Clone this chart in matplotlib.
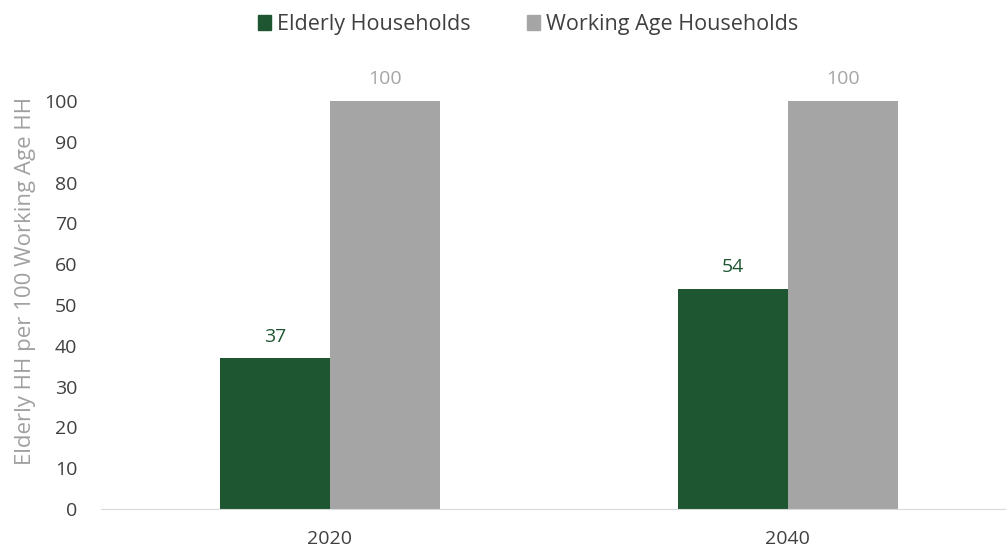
import numpy as np
import matplotlib.pyplot as plt
from matplotlib.patches import Patch

years = ["2020", "2040"]
elderly = [37, 54]
working = [100, 100]

GREEN = "#1E5631"
GREY = "#A5A5A5"
TEXT = "#404040"

plt.rcParams["font.family"] = ["Open Sans", "DejaVu Sans"]

fig = plt.figure(figsize=(10.08, 5.5), dpi=100)
ax = fig.add_axes([101 / 1008, 41 / 550, 904 / 1008, 408 / 550])

x = np.arange(len(years))
w = 0.24
b1 = ax.bar(x - w / 2, elderly, w, color=GREEN, label="Elderly Households")
b2 = ax.bar(x + w / 2, working, w, color=GREY, label="Working Age Households")

for bars, vals, col in [(b1, elderly, GREEN), (b2, working, GREY)]:
    for r, v in zip(bars, vals):
        ax.annotate(str(v), (r.get_x() + r.get_width() / 2, v),
                    xytext=(0, 9), textcoords="offset points",
                    ha="center", va="bottom", fontsize=14, color=col)

ax.set_xlim(-0.5, 1.474)
ax.set_ylim(0, 100)
ax.set_yticks(range(0, 101, 10))
ax.set_xticks(x)
ax.set_xticklabels(years)
ax.tick_params(axis="both", length=0, labelsize=14, colors=TEXT)
ax.tick_params(axis="y", pad=17)
ax.tick_params(axis="x", pad=15)

for s in ["top", "right", "left"]:
    ax.spines[s].set_visible(False)
ax.spines["bottom"].set_color("#D9D9D9")

ax.set_ylabel("Elderly HH per 100 Working Age HH", fontsize=16, color="#A0A0A0")
ax.yaxis.set_label_coords(-0.072, 0.56)

handles = [Patch(color=GREEN), Patch(color=GREY)]
fig.legend(handles, ["Elderly Households", "Working Age Households"],
           loc="upper center", bbox_to_anchor=(0.524, 1.01), ncol=2, frameon=False,
           fontsize=15.5, handlelength=0.6, handleheight=0.7, handletextpad=0.3,
           columnspacing=2.6, labelcolor=TEXT)

fig.savefig("out.png", dpi=100)
